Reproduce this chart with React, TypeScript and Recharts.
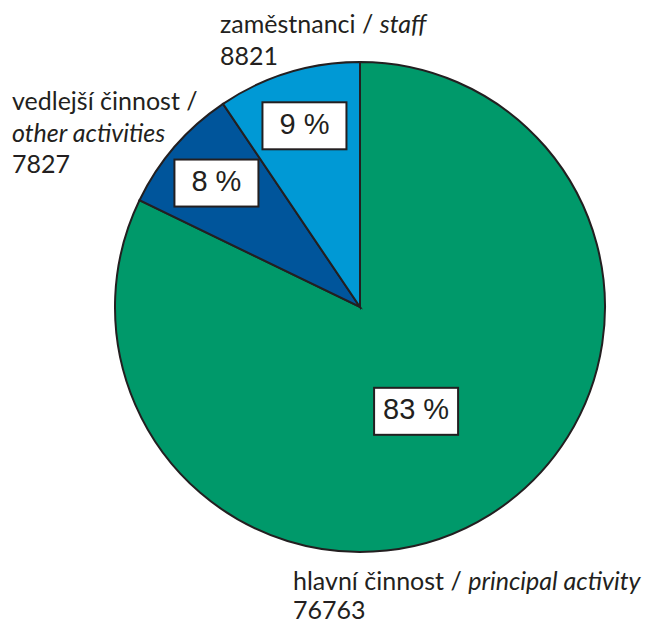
import { PieChart, Pie, Cell } from 'recharts';

const names = ['hlavní činnost', 'vedlejší činnost', 'zaměstnanci'];
const namesEn = ['principal activity', 'other activities', 'staff'];
const values = [76763, 7827, 8821];
const percents = ['83 %', '8 %', '9 %'];
const colors = ['#00996a', '#00559b', '#0099d5'];

const chartData = names.map((n, i) => ({ name: n, en: namesEn[i], value: values[i], pct: percents[i] }));

const RAD = Math.PI / 180;
const labelFont = 'Lato, "Open Sans", sans-serif';

const renderLabel = (props: any) => {
  const { cx, cy, midAngle, percent, index, payload } = props;
  const big = percent > 0.5;
  const r = big ? 118 : 190;
  const a = big ? midAngle - 3.7 : midAngle;
  const x = cx + r * Math.cos(-a * RAD);
  const y = cy + r * Math.sin(-a * RAD);
  const d = payload?.payload ?? payload;
  let outside = null;
  if (index === 0) {
    outside = (
      <text x={293} y={590} fontSize={25} fontFamily={labelFont} fill="#231f20">
        <tspan x={293}>{d.name} / <tspan fontStyle="italic">{d.en}</tspan></tspan>
        <tspan x={293} dy={29}>{d.value}</tspan>
      </text>
    );
  } else if (index === 1) {
    outside = (
      <text x={12} y={110} fontSize={25} fontFamily={labelFont} fill="#231f20">
        <tspan x={12}>{d.name} /</tspan>
        <tspan x={12} dy={32} fontStyle="italic">{d.en}</tspan>
        <tspan x={12} dy={31}>{d.value}</tspan>
      </text>
    );
  } else {
    outside = (
      <text x={220} y={33} fontSize={25} fontFamily={labelFont} fill="#231f20">
        <tspan x={220}>{d.name} / <tspan fontStyle="italic">{d.en}</tspan></tspan>
        <tspan x={220} dy={32}>{d.value}</tspan>
      </text>
    );
  }
  return (
    <g>
      <rect x={x - 42} y={y - 23} width={84} height={47} fill="#fff" stroke="#231f20" strokeWidth={2} />
      <text x={x} y={y + 1} textAnchor="middle" dominantBaseline="middle" fontSize={29}
        fontFamily='"Liberation Sans", Arial, sans-serif' fill="#231f20">
        {d.pct}
      </text>
      {outside}
    </g>
  );
};

export default function App() {
  return (
    <div style={{ position: 'absolute', left: 0, top: 0, width: 649, height: 623, background: '#fff' }}>
      <PieChart width={649} height={623} margin={{ top: 0, right: 0, bottom: 0, left: 0 }}>
        <Pie
          data={chartData}
          dataKey="value"
          cx={360}
          cy={307}
          outerRadius={245}
          startAngle={90}
          endAngle={-270}
          stroke="#231f20"
          strokeWidth={2}
          label={renderLabel}
          labelLine={false}
          isAnimationActive={false}
        >
          {chartData.map((e, i) => (
            <Cell key={`cell-${i}`} fill={colors[i]} />
          ))}
        </Pie>
      </PieChart>
    </div>
  );
}
